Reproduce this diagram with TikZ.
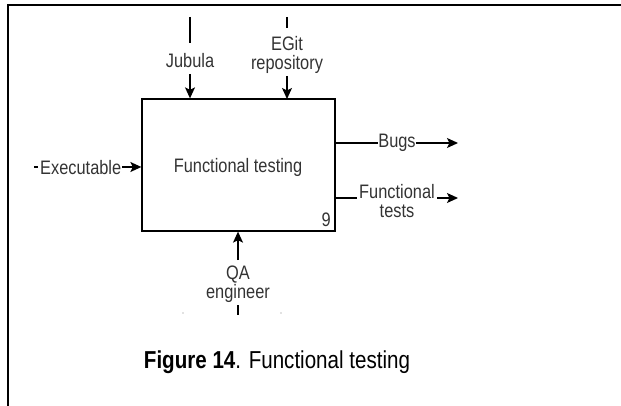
\documentclass[tikz,border=0pt]{standalone}
\usepackage{fontspec}
\setmainfont{Liberation Sans}[FakeStretch=0.84]
\usetikzlibrary{arrows.meta}
\definecolor{ink}{HTML}{333333}
\begin{document}
\begin{tikzpicture}[x=1pt,y=-1pt,
  lbl/.style={font=\fontsize{19.5}{21}\selectfont, text=ink, inner sep=0pt, align=center},
  flow/.style={line width=1.3pt, draw=black},
  arr/.style={flow, -{Stealth[length=11pt,width=10pt,inset=2.5pt]}}]
\useasboundingbox (0,0) rectangle (621,406);
% page frame
\draw[line width=2.5pt] (8,406) -- (8,5) -- (621,5);

% activity box
\node[draw, line width=1.3pt, minimum width=193pt, minimum height=132pt, inner sep=0pt]
  (ft) at (238.5,165) {};
\node[lbl] (ftname) at (238,167) {Functional testing};
\node[lbl, anchor=south east] (num) at (331,227) {9};

% controls from above
\coordinate (jtop) at (190,17);
\node[lbl] (jub) at (190,61) {Jubula};
\draw[flow] (jtop) -- (jub.north |- 0,43);
\draw[arr] (jub.south |- 0,74) -- (jub.south |- ft.north);

\coordinate (etop) at (287,17);
\node[lbl] (egit) at (287,55) {EGit\\[-2pt]repository};
\draw[flow] (etop) -- (287,28);
\draw[arr] (287,76) -- (287,99);

% input
\coordinate (ein) at (34,167);
\node[lbl, anchor=west] (exe) at (40,168) {Executable};
\draw[flow] (ein) -- ++(4,0);
\draw[arr] (exe.east |- ein) ++(1,0) -- (ft.west |- ein);

% outputs
\coordinate (bout) at (458,143);
\node[lbl] (bugs) at (397,143) {Bugs};
\draw[flow] (ft.east |- bout) -- (bugs.west |- bout);
\draw[arr] (bugs.east |- bout) -- (bout);

\coordinate (tout) at (458,198);
\node[lbl] (ftests) at (397,201) {Functional\\[-2pt]tests};
\draw[flow] (ft.east |- tout) -- (357,198);
\draw[arr] (437,198) -- (tout);

% mechanism from below
\coordinate (qbot) at (238,260);
\node[lbl] (qa) at (238,284) {QA\\[-2pt]engineer};
\draw[arr] (qbot) -- (qbot |- ft.south);
\draw[flow] (238,305) -- (238,315);
\fill[gray] (183,313) circle (0.6pt) (281,313) circle (0.6pt);

% caption
\node[font=\fontsize{24.5}{28}\selectfont, inner sep=0pt] (cap) at (277,362)
  {\textbf{Figure 14}. Functional testing};
\end{tikzpicture}
\end{document}
